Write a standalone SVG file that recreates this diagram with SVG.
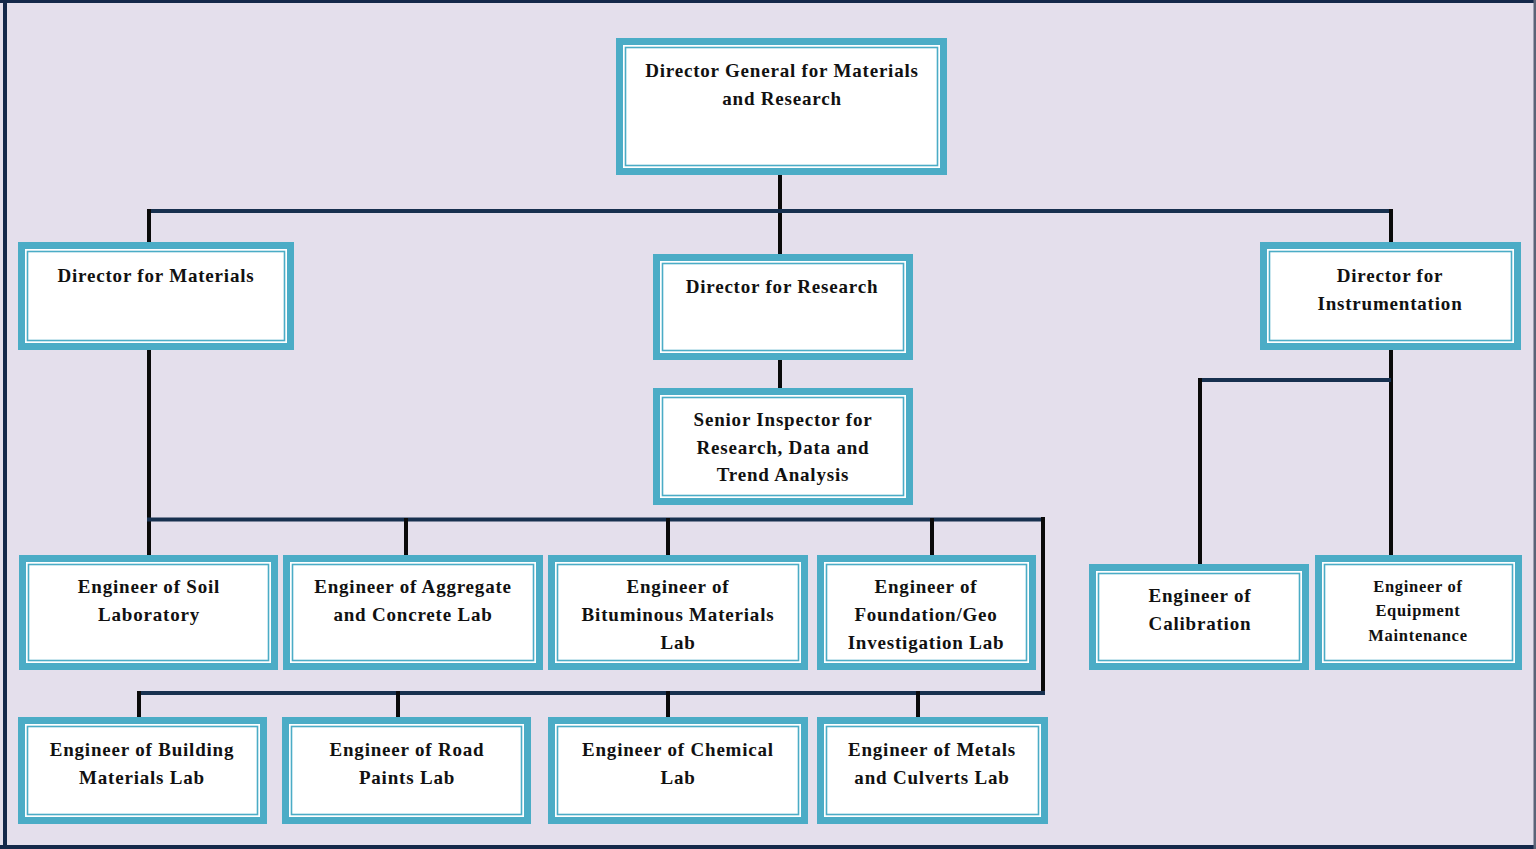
<svg xmlns="http://www.w3.org/2000/svg" width="1536" height="849" viewBox="0 0 1536 849">
<style>
.o{fill:#4BACC6}
.w{fill:#FFFFFF}
.t{fill:none;stroke:#4BACC6;stroke-width:1.6}
.h{stroke:#17304F;stroke-width:4;fill:none}
.v{stroke:#0A0A0A;stroke-width:4;fill:none}
text{font-family:'Liberation Serif',serif;font-weight:bold;font-size:19px;letter-spacing:0.8px;fill:#111;text-anchor:middle}
.s{font-size:16.5px;letter-spacing:0.7px}
</style>
<rect x="0" y="0" width="1536" height="849" fill="#E4DFEC"/>
<g id="frame">
<rect x="0" y="0" width="1536" height="3" fill="#14284A"/>
<rect x="3" y="0" width="4" height="849" fill="#14284A"/>
<rect x="0" y="845" width="1536" height="4" fill="#14284A"/>
<rect x="1533.5" y="0" width="2.5" height="849" fill="#5A6478"/>
</g>
<g id="connectors">
<path class="v" d="M780 175V254"/>
<path class="h" d="M149 211H1391"/>
<path class="v" d="M149 209V242M1391 209V242"/>
<path class="v" d="M780 360V388"/>
<path class="v" d="M149 350V555"/>
<path class="h" d="M147 519.5H1045"/>
<path class="v" d="M406 518V555M668 518V555M932 518V555M1043 517V695"/>
<path class="h" d="M137 693H1045"/>
<path class="v" d="M139 691V717M398 691V717M668 691V717M918 691V717"/>
<path class="v" d="M1391 350V555"/>
<path class="h" d="M1198 380H1391"/>
<path class="v" d="M1200 378V564"/>
</g>
<g id="n-dg">
<rect class="o" x="616" y="38" width="331" height="137"/>
<rect class="w" x="623" y="45" width="317" height="123"/>
<rect class="t" x="625.5" y="47.5" width="312" height="118"/>
<text x="782" y="77">Director General for Materials</text>
<text x="782" y="105">and Research</text>
</g>
<g id="n-dmat">
<rect class="o" x="18" y="242" width="276" height="108"/>
<rect class="w" x="25" y="249" width="262" height="94"/>
<rect class="t" x="27.5" y="251.5" width="257" height="89"/>
<text x="156" y="282">Director for Materials</text>
</g>
<g id="n-dres">
<rect class="o" x="653" y="254" width="260" height="106"/>
<rect class="w" x="660" y="261" width="246" height="92"/>
<rect class="t" x="662.5" y="263.5" width="241" height="87"/>
<text x="782" y="293">Director for Research</text>
</g>
<g id="n-dins">
<rect class="o" x="1260" y="242" width="261" height="108"/>
<rect class="w" x="1267" y="249" width="247" height="94"/>
<rect class="t" x="1269.5" y="251.5" width="242" height="89"/>
<text x="1390" y="282">Director for</text>
<text x="1390" y="310">Instrumentation</text>
</g>
<g id="n-senior">
<rect class="o" x="653" y="388" width="260" height="117"/>
<rect class="w" x="660" y="395" width="246" height="103"/>
<rect class="t" x="662.5" y="397.5" width="241" height="98"/>
<text x="783" y="426">Senior Inspector for</text>
<text x="783" y="454">Research, Data and</text>
<text x="783" y="481">Trend Analysis</text>
</g>
<g id="n-soil">
<rect class="o" x="19" y="555" width="259" height="115"/>
<rect class="w" x="26" y="562" width="245" height="101"/>
<rect class="t" x="28.5" y="564.5" width="240" height="96"/>
<text x="149" y="593">Engineer of Soil</text>
<text x="149" y="621">Laboratory</text>
</g>
<g id="n-agg">
<rect class="o" x="283" y="555" width="260" height="115"/>
<rect class="w" x="290" y="562" width="246" height="101"/>
<rect class="t" x="292.5" y="564.5" width="241" height="96"/>
<text x="413" y="593">Engineer of Aggregate</text>
<text x="413" y="621">and Concrete Lab</text>
</g>
<g id="n-bit">
<rect class="o" x="548" y="555" width="260" height="115"/>
<rect class="w" x="555" y="562" width="246" height="101"/>
<rect class="t" x="557.5" y="564.5" width="241" height="96"/>
<text x="678" y="593">Engineer of</text>
<text x="678" y="621">Bituminous Materials</text>
<text x="678" y="649">Lab</text>
</g>
<g id="n-found">
<rect class="o" x="817" y="555" width="219" height="115"/>
<rect class="w" x="824" y="562" width="205" height="101"/>
<rect class="t" x="826.5" y="564.5" width="200" height="96"/>
<text x="926" y="593">Engineer of</text>
<text x="926" y="621">Foundation/Geo</text>
<text x="926" y="649">Investigation Lab</text>
</g>
<g id="n-cal">
<rect class="o" x="1089" y="564" width="220" height="106"/>
<rect class="w" x="1096" y="571" width="206" height="92"/>
<rect class="t" x="1098.5" y="573.5" width="201" height="87"/>
<text x="1200" y="602">Engineer of</text>
<text x="1200" y="630">Calibration</text>
</g>
<g id="n-equip">
<rect class="o" x="1315" y="555" width="207" height="115"/>
<rect class="w" x="1322" y="562" width="193" height="101"/>
<rect class="t" x="1324.5" y="564.5" width="188" height="96"/>
<text class="s" x="1418" y="592">Engineer of</text>
<text class="s" x="1418" y="616">Equipment</text>
<text class="s" x="1418" y="641">Maintenance</text>
</g>
<g id="n-build">
<rect class="o" x="18" y="717" width="249" height="107"/>
<rect class="w" x="25" y="724" width="235" height="93"/>
<rect class="t" x="27.5" y="726.5" width="230" height="88"/>
<text x="142" y="756">Engineer of Building</text>
<text x="142" y="784">Materials Lab</text>
</g>
<g id="n-road">
<rect class="o" x="282" y="717" width="249" height="107"/>
<rect class="w" x="289" y="724" width="235" height="93"/>
<rect class="t" x="291.5" y="726.5" width="230" height="88"/>
<text x="407" y="756">Engineer of Road</text>
<text x="407" y="784">Paints Lab</text>
</g>
<g id="n-chem">
<rect class="o" x="548" y="717" width="260" height="107"/>
<rect class="w" x="555" y="724" width="246" height="93"/>
<rect class="t" x="557.5" y="726.5" width="241" height="88"/>
<text x="678" y="756">Engineer of Chemical</text>
<text x="678" y="784">Lab</text>
</g>
<g id="n-metals">
<rect class="o" x="817" y="717" width="231" height="107"/>
<rect class="w" x="824" y="724" width="217" height="93"/>
<rect class="t" x="826.5" y="726.5" width="212" height="88"/>
<text x="932" y="756">Engineer of Metals</text>
<text x="932" y="784">and Culverts Lab</text>
</g>
</svg>
